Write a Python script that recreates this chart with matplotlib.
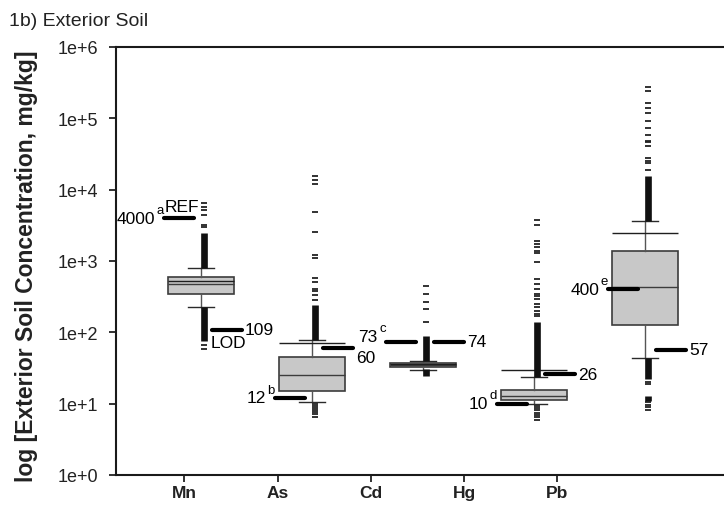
import matplotlib.pyplot as plt
import numpy as np
from matplotlib.ticker import NullLocator

plt.rcParams['font.family'] = ['Liberation Sans', 'DejaVu Sans']

categories = ['Mn', 'As', 'Cd', 'Hg', 'Pb']
q1 = [345, 14.9, 32.7, 11.4, 128]
medians = [476, 25.5, 34.5, 12.9, 428]
q3 = [597, 44.7, 36.6, 15.6, 1370]
means = [530, 71.6, 35.5, 30, 2470]
whisker_lo = [227, 10.7, 30, 9.9, 43]
whisker_hi = [805, 78, 40, 23.4, 3640]

# single outliers
outliers = [
    [6440, 5770, 5240, 4460, 3230, 2970, 67, 58.4],
    [15700, 13800, 12000, 4910, 2580, 1210, 1110, 572, 503, 405, 374, 334, 280,
     9.9, 9.27, 8.69, 8.15, 7.64, 7.16, 6.6],
    [141, 212, 269, 344, 442],
    [3760, 3200, 1930, 1730, 1556, 1395, 1282, 959, 560, 476, 405, 345, 320,
     293, 250, 224, 201, 181, 168,
     9.37, 8.7, 8.07, 7.47, 6.93, 6.44, 5.96],
    [18900, 23400, 25500, 28100, 40600, 46100, 48600, 58500, 73300, 91000,
     118800, 138400, 162600, 244300, 272300,
     20.3, 18.9, 10.5, 9.58, 8.9, 8.2],
]
# stretches of outliers so dense they print as a solid bar (low, high)
outlier_runs = [
    [(805, 2470), (76, 227)],
    [(78, 240)],
    [(40, 90), (24.6, 31)],
    [(23.4, 141)],
    [(3640, 15700), (22.2, 43), (11.0, 12.9)],
]

# reference values drawn as black bars beside the boxes
ref_cat = [0, 0, 1, 1, 2, 2, 3, 3, 4, 4]
ref_val = [4000, 109, 12, 60, 73, 74, 10, 26, 400, 57]
ref_side = ['L', 'R', 'L', 'R', 'L', 'R', 'L', 'R', 'L', 'R']
ref_text = ['4000', '109', '12', '60', '73', '74', '10', '26', '400', '57']
ref_sup = ['a', '', 'b', '', 'c', '', 'd', '', 'e', '']
ref_note = ['REF', 'LOD', '', '', '', '', '', '', '', '']
ref_dy = [0, 0, 0, -7, 4, 0, 0, 0, 0, 0]  # label nudge, points

pos = np.arange(1, 6)
tick_pos = [0.847, 1.694, 2.532, 3.369, 4.207]

fig = plt.figure(figsize=(7.24, 5.06), dpi=100)
ax = fig.add_axes([0.160, 0.0593, 0.84, 0.846])

stats = []
for i in range(5):
    stats.append(dict(med=medians[i], q1=q1[i], q3=q3[i], mean=means[i],
                      whislo=whisker_lo[i], whishi=whisker_hi[i], fliers=[]))

ax.bxp(stats, positions=pos, widths=0.6, capwidths=0.234,
       showmeans=True, meanline=True, showfliers=False, patch_artist=True,
       manage_ticks=False,
       boxprops=dict(facecolor='#c8c8c8', edgecolor='#3c3c3c', linewidth=1.2),
       medianprops=dict(color='#3c3c3c', linewidth=1),
       meanprops=dict(color='#1e1e1e', linewidth=1, linestyle='-'),
       whiskerprops=dict(color='#555555', linewidth=1),
       capprops=dict(color='#2a2a2a', linewidth=1))

dx = 0.03
for i in range(5):
    xs = np.full(len(outliers[i]), pos[i] + dx)
    ax.plot(xs, outliers[i], linestyle='none', marker='_', markersize=4.8,
            markeredgewidth=1.3, color='#222222', zorder=3)
    for lo, hi in outlier_runs[i]:
        ax.plot([pos[i] + dx, pos[i] + dx], [lo, hi], color='#111111',
                lw=4.8, solid_capstyle='butt', zorder=3)

for k in range(len(ref_val)):
    c = pos[ref_cat[k]]
    v = ref_val[k]
    if ref_side[k] == 'L':
        x0, x1 = c - 0.33, c - 0.06
    else:
        x0, x1 = c + 0.10, c + 0.37
    ax.plot([x0, x1], [v, v], color='black', lw=3, solid_capstyle='round',
            zorder=5)
    if ref_side[k] == 'L':
        ax.annotate(ref_text[k], xy=(x0, v), xytext=(-6.5, ref_dy[k]),
                    textcoords='offset points', ha='right', va='center',
                    fontsize=12.5)
        ax.annotate(ref_sup[k], xy=(x0, v), xytext=(-0.5, ref_dy[k] + 6),
                    textcoords='offset points', ha='right', va='center',
                    fontsize=9.5)
        if ref_note[k]:
            ax.annotate(ref_note[k], xy=((x0 + x1) / 2, v), xytext=(2, 8),
                        textcoords='offset points', ha='center', va='center',
                        fontsize=12.5)
    else:
        ax.annotate(ref_text[k], xy=(x1, v), xytext=(2, ref_dy[k]),
                    textcoords='offset points', ha='left', va='center',
                    fontsize=12.5)
        if ref_note[k]:
            ax.annotate(ref_note[k], xy=((x0 + x1) / 2, v), xytext=(1, -9),
                        textcoords='offset points', ha='center', va='center',
                        fontsize=12.5)

ax.set_yscale('log')
ax.set_ylim(1, 1e6)
ax.set_xlim(0.234, 5.71)
yt = [10.0 ** e for e in range(7)]
ax.set_yticks(yt)
ax.set_yticklabels(['1e+%d' % e for e in range(7)])
ax.yaxis.set_minor_locator(NullLocator())
ax.set_xticks(tick_pos)
ax.set_xticklabels(categories, fontweight='bold', fontsize=12.5)

ax.tick_params(axis='y', direction='out', length=5, width=1.3, labelsize=13,
               pad=8, colors='#222222')
ax.tick_params(axis='x', direction='out', length=5, width=1.3, pad=2.5,
               colors='#222222')
for s in ['left', 'bottom', 'top']:
    ax.spines[s].set_linewidth(1.5)
    ax.spines[s].set_color('#1a1a1a')
ax.spines['right'].set_visible(False)

fig.text(9 / 724, 1 - 21 / 506, '1b) Exterior Soil', fontsize=14,
         va='center', ha='left', color='#222222')
fig.text(27 / 724, 1 - 266 / 506, 'log [Exterior Soil Concentration, mg/kg]',
         rotation=90, fontsize=16.5, fontweight='bold', va='center',
         ha='center', color='#222222')

fig.savefig('out.png', dpi=100)
